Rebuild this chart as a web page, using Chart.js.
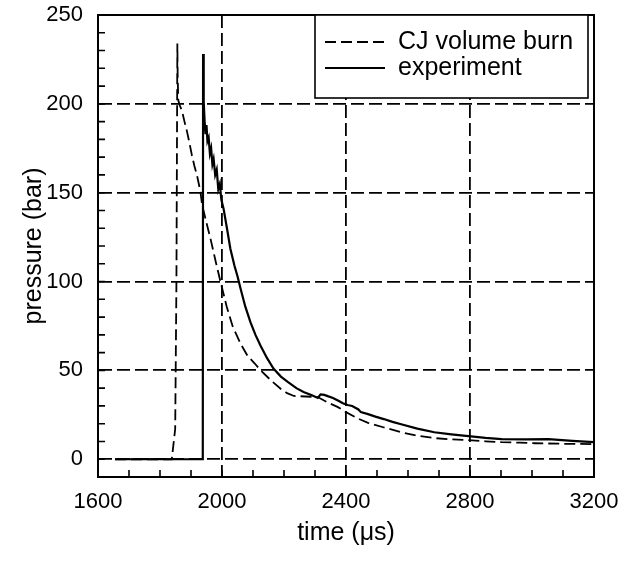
<!DOCTYPE html>
<html>
<head>
<meta charset="utf-8">
<script src="https://cdn.jsdelivr.net/npm/chart.js@4.4.0/dist/chart.umd.min.js"></script>
<style>
    html, body { margin: 0; padding: 0; background: #fff; }
</style>
</head>
<body>
<canvas id="plot_p" width="619" height="564"></canvas>
<script>
// CJ volume burn (dashed)
const cjTime = [1655, 1838, 1849, 1853, 1856, 1857, 1859, 1864, 1871, 1879, 1887, 1895, 1903, 1911, 1919, 1930, 1936,
    1950, 1963, 1980, 1995, 2015, 2034, 2060, 2083, 2105, 2125, 2160, 2190, 2210, 2232, 2270, 2309, 2340, 2374,
    2400, 2440, 2471, 2520, 2578, 2630, 2685, 2740, 2795, 2850, 2902, 2960, 3009, 3100, 3200];
const cjPressure = [0, 0, 17, 100, 234, 215, 202, 199, 196, 190, 184.5, 178, 171, 165, 160, 151, 143,
    133, 124, 111, 100, 86, 75, 65, 58, 54, 50, 44, 39.5, 37.2, 35.6, 35.3, 35, 32, 29.3,
    26.5, 22.8, 20.5, 18, 15.2, 13.2, 11.9, 11.2, 10.7, 10.1, 9.6, 9.3, 9.0, 8.7, 8.5];

// experiment (solid)
const expTime = [1655, 1938, 1939, 1941, 1944, 1947, 1950, 1953, 1957, 1961, 1965, 1969, 1973, 1978, 1983, 1988,
    1993, 1998, 2005, 2015, 2027, 2040, 2050, 2060, 2075, 2092, 2108, 2124, 2145, 2166, 2190, 2212, 2240, 2263,
    2290, 2309, 2318, 2330, 2341, 2358, 2374, 2390, 2405, 2420, 2440, 2448, 2471, 2495, 2522, 2550, 2578, 2630,
    2685, 2740, 2795, 2850, 2902, 2980, 3053, 3130, 3200];
const expPressure = [0, 0, 228, 201, 190, 183, 188, 179, 181, 172, 175, 166, 169, 160, 163, 152,
    155, 146, 141, 131, 118.5, 109, 103, 96, 86, 77, 70, 64, 57, 51, 46.5, 43.5, 40, 37.8,
    36, 34.5, 36.5, 36.2, 35.5, 34.5, 33, 31.5, 30.5, 30, 28, 26.5, 25.4, 24, 22.6, 21, 19.7, 17.2,
    15.2, 14, 13, 12, 11.3, 11.2, 11.3, 10.3, 9.6];

const xTickLabels = [1600, 2000, 2400, 2800, 3200];
const yTickLabels = [0, 50, 100, 150, 200, 250];

const fontFamily = "'Liberation Sans', Arial, sans-serif";

function toPoints(xs, ys) {
    return xs.map((x, i) => ({x: x, y: ys[i]}));
}

// frame, inward ticks and the boxed legend
const framePlugin = {
    id: 'frame',
    afterDraw(chart) {
        const ctx = chart.ctx;
        const a = chart.chartArea;
        const sx = chart.scales.x, sy = chart.scales.y;
        ctx.save();
        ctx.strokeStyle = '#000';
        ctx.setLineDash([]);
        ctx.lineWidth = 1.6;
        ctx.beginPath();
        sx.ticks.forEach(t => {
            const px = sx.getPixelForValue(t.value);
            ctx.moveTo(px, a.bottom);
            ctx.lineTo(px, a.bottom - 7);
        });
        sy.ticks.forEach(t => {
            const py = sy.getPixelForValue(t.value);
            ctx.moveTo(a.left, py);
            ctx.lineTo(a.left + 7, py);
        });
        ctx.stroke();
        ctx.lineWidth = 2;
        ctx.strokeRect(a.left, a.top, a.right - a.left, a.bottom - a.top);

        // legend
        const bw = 273, bh = 83;
        const bx = a.right - 6 - bw, by = a.top;
        ctx.fillStyle = '#fff';
        ctx.fillRect(bx, by, bw, bh);
        ctx.lineWidth = 1.6;
        ctx.strokeRect(bx, by, bw, bh);
        ctx.font = '25px ' + fontFamily;
        ctx.textBaseline = 'middle';
        ctx.fillStyle = '#000';
        chart.data.datasets.forEach((ds, i) => {
            const ly = by + 27 + i * 26;
            ctx.lineWidth = ds.borderWidth;
            ctx.setLineDash(ds.borderDash || []);
            ctx.beginPath();
            ctx.moveTo(bx + 10, ly);
            ctx.lineTo(bx + 70, ly);
            ctx.stroke();
            ctx.fillText(ds.label, bx + 83, ly);
        });
        ctx.restore();
    }
};

let ctx_p = document.getElementById('plot_p').getContext('2d');
let plot_p = new Chart(ctx_p, {
    type: 'line',
    data: {
        datasets: [{
            label: 'CJ volume burn',
            data: toPoints(cjTime, cjPressure),
            borderColor: '#000',
            borderWidth: 1.8,
            borderDash: [11, 5],
            pointRadius: 0,
            fill: false,
            tension: 0
        }, {
            label: 'experiment',
            data: toPoints(expTime, expPressure),
            borderColor: '#000',
            borderWidth: 2.2,
            pointRadius: 0,
            fill: false,
            tension: 0
        }]
    },
    options: {
        responsive: false,
        animation: false,
        layout: {padding: {left: 0, top: 15, right: 25, bottom: 0}},
        plugins: {legend: {display: false}, tooltip: {enabled: false}},
        scales: {
            x: {
                type: 'linear',
                min: 1600,
                max: 3200,
                afterFit: function (scale) {
                    scale.height = 87;
                    scale.paddingLeft = 0;
                    scale.paddingRight = 0;
                },
                ticks: {
                    stepSize: 100,
                    autoSkip: false,
                    maxRotation: 0,
                    padding: 12,
                    color: '#000',
                    font: {family: fontFamily, size: 22},
                    callback: v => xTickLabels.includes(v) ? String(v) : ''
                },
                grid: {
                    drawTicks: false,
                    lineWidth: 1.8,
                    color: c => (c.tick && xTickLabels.includes(c.tick.value)) ? '#000' : 'rgba(0,0,0,0)'
                },
                border: {color: '#000', width: 2, dash: [13, 5]},
                title: {
                    display: true,
                    text: 'time (\u03bcs)',
                    color: '#000',
                    font: {family: fontFamily, size: 25},
                    padding: {top: 0, bottom: 16}
                }
            },
            y: {
                min: -10,
                max: 250,
                afterFit: function (scale) {
                    scale.width = 98;
                    scale.paddingTop = 0;
                    scale.paddingBottom = 0;
                },
                ticks: {
                    stepSize: 10,
                    autoSkip: false,
                    padding: 15,
                    color: '#000',
                    font: {family: fontFamily, size: 22},
                    callback: v => yTickLabels.includes(v) ? String(v) : ''
                },
                grid: {
                    drawTicks: false,
                    lineWidth: 1.8,
                    color: c => (c.tick && yTickLabels.includes(c.tick.value)) ? '#000' : 'rgba(0,0,0,0)'
                },
                border: {color: '#000', width: 2, dash: [13, 5]},
                title: {
                    display: true,
                    text: 'pressure (bar)',
                    color: '#000',
                    font: {family: fontFamily, size: 25},
                    padding: {top: 19, bottom: 0}
                }
            }
        }
    },
    plugins: [framePlugin]
});
</script>
</body>
</html>
